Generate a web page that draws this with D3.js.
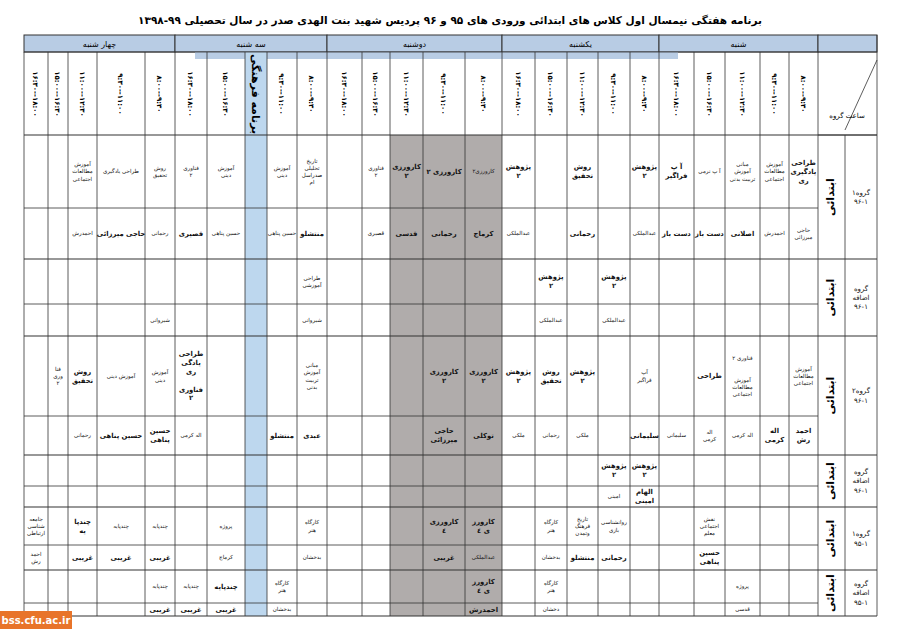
<!DOCTYPE html>
<html><head><meta charset="utf-8">
<script src="https://cdn.jsdelivr.net/npm/d3@7"></script>
<style>body{margin:0;background:#fff}text{font-family:"DejaVu Sans",sans-serif}</style>
</head><body><svg id="c" width="900" height="636"></svg>
<script>
const title = "برنامه هفتگی نیمسال اول کلاس های ابتدائی ورودی های ۹۵ و ۹۶  پردیس شهید بنت الهدی صدر در سال تحصیلی ۹۹-۱۳۹۸";
const days = ["چهار شنبه","سه شنبه","دوشنبه","یکشنبه","شنبه"];
const slots = ["۱۶:۳۰--۱۸:۰۰","۱۵:۰۰--۱۶:۳۰","۱۱:۰۰--۱۲:۳۰","۹:۳۰--۱۱:۰۰","۸:۰۰--۹:۳۰"];
const groups = ["گروه۱|۹۶-۱","گروه|اضافه|۹۶-۱","گروه۲|۹۶-۱","گروه|اضافه|۹۶-۱","گروه۱|۹۵-۱","گروه|اضافه|۹۵-۱"];
const level = "ابتدائی";
const cultural = "برنامه فرهنگی";
// cells: [column, firstSubRow, lastSubRow, text, bold]
const cells = [
 [24,0,0,"طراحی|یادگیری|ری",1],[24,1,1,"حاجی|میرزائی",0],[23,0,0,"آموزش|مطالعات|اجتماعی",0],[23,1,1,"احمدرش",0],
 [22,0,0,"مبانی|آموزش|تربیت بدنی",0],[22,1,1,"اصلانی",1],[21,0,0,"آ پ نرمی",0],[21,1,1,"دست باز",1],
 [20,0,0,"آ پ|فراگیر",1],[20,1,1,"دست باز",1],[19,0,0,"پژوهش|۲",1],[19,1,1,"عبدالملکی",0],
 [17,0,0,"روش|تحقیق",1],[17,1,1,"رحمانی",1],[15,0,0,"پژوهش|۲",1],[15,1,1,"عبدالملکی",0],
 [14,0,0,"کارورزی۲",0],[14,1,1,"کرماج",1],[13,0,0,"کارورزی ۲",1],[13,1,1,"رحمانی",1],
 [12,0,0,"کارورزی|۲",1],[12,1,1,"قدسی",1],[11,0,0,"فناوری|۲",0],[11,1,1,"قصیری",0],
 [9,0,0,"تاریخ|تحلیلی|صدراسل|ام",0],[9,1,1,"منتشلو",1],[8,0,0,"آموزش|دینی",0],[8,1,1,"حسین پناهی",0],
 [6,0,0,"آموزش|دینی",0],[6,1,1,"حسین پناهی",0],[5,0,0,"فناوری|۲",0],[5,1,1,"قصیری",1],
 [4,0,0,"روش|تحقیق",0],[4,1,1,"رحمانی",0],[3,0,0,"طراحی یادگیری",0],[3,1,1,"حاجی میرزائی",1],
 [2,0,0,"آموزش|مطالعات|اجتماعی",0],[2,1,1,"احمدرش",0],
 [9,2,2,"طراحی|آموزشی",0],[9,3,3,"شیروانی",0],[4,3,3,"شیروانی",0],
 [16,2,2,"پژوهش|۲",1],[16,3,3,"عبدالملکی",0],[18,2,2,"پژوهش|۲",1],[18,3,3,"عبدالملکی",0],
 [14,4,4,"کارورزی|۲",1],[14,5,5,"توکلی",1],[13,4,4,"کارورزی|۲",1],[13,5,5,"حاجی|میرزائی",1],
 [15,4,4,"پژوهش|۲",1],[15,5,5,"ملکی",0],[16,4,4,"روش|تحقیق",1],[16,5,5,"رحمانی",0],
 [17,4,4,"پژوهش|۲",1],[17,5,5,"ملکی",0],[19,4,4,"آپ|فراگیر",0],[19,5,5,"سلیمانی",1],
 [20,5,5,"سلیمانی",0],[21,4,4,"طراحی",1],[21,5,5,"اله|کرمی",0],
 [22,4,4,"فناوری ۲|||آموزش|مطالعات|اجتماعی",0],[22,5,5,"اله کرمی",0],[23,5,5,"اله|کرمی",1],
 [24,4,4,"آموزش|مطالعات|اجتماعی",0],[24,5,5,"احمد|رش",1],
 [1,4,4,"فنا|وری|۲",0],[2,4,4,"روش|تحقیق",1],[2,5,5,"رحمانی",0],[3,4,4,"آموزش دینی",0],[3,5,5,"حسین پناهی",1],
 [4,4,4,"آموزش|دینی",0],[4,5,5,"حسین|پناهی",1],[5,4,4,"طراحی|یادگی|ری||فناوری|۲",1],[5,5,5,"اله کرمی",0],
 [9,4,4,"مبانی|آموزش|تربیت|بدنی",0],[9,5,5,"عبدی",1],[8,5,5,"منتشلو",1],
 [18,6,6,"پژوهش|۲",1],[18,7,7,"امینی",0],[19,6,6,"پژوهش|۲",1],[19,7,7,"الهام|امینی",1],
 [14,8,8,"کارورز|ی ٤",1],[14,9,9,"عبدالملکی",0],[13,8,8,"کارورزی|٤",1],[13,9,9,"غریبی",1],
 [16,8,8,"کارگاه|هنر",0],[16,9,9,"بدخشان",0],[17,8,8,"تاریخ|فرهنگ|وتمدن",0],[17,9,9,"منتشلو",1],
 [18,8,8,"روانشناسی|بازی",0],[18,9,9,"رحمانی",1],[21,8,8,"نقش|اجتماعی|معلم",0],[21,9,9,"حسین|پناهی",1],
 [0,8,8,"جامعه|شناسی|ارتباطی",0],[0,9,9,"احمد|رش",0],[2,8,8,"چندپا|یه",1],[2,9,9,"غریبی",1],
 [3,8,8,"چندپایه",0],[3,9,9,"غریبی",1],[4,8,8,"چندپایه",0],[4,9,9,"غریبی",1],
 [6,8,8,"پروژه",0],[6,9,9,"کرماج",0],[9,8,8,"کارگاه|هنر",0],[9,9,9,"بدخشان",0],
 [14,10,10,"کارورز|ی ٤",1],[14,11,11,"احمدرش",1],[16,10,10,"کارگاه|هنر",0],[16,11,11,"دخشان",0],
 [22,10,10,"پروژه",0],[22,11,11,"قدسی",0],[4,10,10,"چندپایه",0],[4,11,11,"غریبی",1],
 [5,10,10,"چندپایه",0],[5,11,11,"غریبی",1],[6,10,10,"چندپایه",1],[6,11,11,"غریبی",1],
 [8,10,10,"کارگاه|هنر",0],[8,11,11,"بدخشان",0]
];
const colEdges = [24,48,68,97,145,175,207,245,267,297,327,362,390,423,465,502,535,567,598,630,659,694,725,760,789,818];
const rowEdges = [135,208,259,304,336,416,455,486,507,545,570,603,616];

const svg = d3.select("#c");
const x = d3.scaleLinear().domain(d3.range(colEdges.length)).range(colEdges);
const y = d3.scaleLinear().domain(d3.range(rowEdges.length)).range(rowEdges);
const ink="#333";
function ml(g, cx, cy, str, size, bold){
  const lines = str.split("|");
  const lh = size*1.3;
  const t = g.append("text").attr("text-anchor","middle").attr("font-size",size).attr("font-weight",bold?"bold":"normal").attr("fill","#111").attr("direction","rtl");
  lines.forEach((l,i)=>t.append("tspan").attr("x",cx).attr("y",cy+(i-(lines.length-1)/2)*lh+size*0.35).text(l));
}
svg.append("text").attr("x",450).attr("y",24).attr("text-anchor","middle").attr("font-size",10.5).attr("font-weight","bold").attr("direction","rtl").text(title);

days.forEach((d,i)=>{
  svg.append("rect").attr("x",x(i*5)).attr("y",35).attr("width",x(i*5+5)-x(i*5)).attr("height",17).attr("fill","#b8cce4").attr("stroke",ink);
  svg.append("text").attr("x",(x(i*5)+x(i*5+5))/2).attr("y",47).attr("text-anchor","middle").attr("font-size",8).attr("direction","rtl").text(d);
});
svg.append("rect").attr("x",818).attr("y",35).attr("width",59).attr("height",17).attr("fill","#b8cce4").attr("stroke",ink);
svg.append("rect").attr("x",195).attr("y",52).attr("width",483).attr("height",7).attr("fill","#b8cce4");
svg.append("rect").attr("x",x(12)).attr("y",y(0)).attr("width",x(15)-x(12)).attr("height",y(12)-y(0)).attr("fill","#b0acab");
svg.append("rect").attr("x",x(7)).attr("y",52).attr("width",x(8)-x(7)).attr("height",y(12)-52).attr("fill","#bdd7ee");

d3.range(25).forEach(c=>{
  const cx=(x(c)+x(c+1))/2;
  if(c===7){
    svg.append("text").attr("transform",`translate(${cx-4},94) rotate(90)`).attr("text-anchor","middle").attr("font-size",11).attr("font-weight","bold").attr("direction","rtl").text(cultural);
  } else {
    svg.append("text").attr("transform",`translate(${cx-3},94) rotate(90)`).attr("text-anchor","middle").attr("font-size",7).attr("font-weight","bold").text(slots[c%5]);
  }
});
const g = svg.append("g").attr("stroke",ink).attr("stroke-width",0.8).attr("fill","none");
colEdges.forEach(v=>g.append("line").attr("x1",v).attr("x2",v).attr("y1",52).attr("y2",y(12)));
[845,877].forEach(v=>g.append("line").attr("x1",v).attr("x2",v).attr("y1",v===877?35:y(0)).attr("y2",y(12)));
g.append("line").attr("x1",24).attr("x2",877).attr("y1",52).attr("y2",52);
rowEdges.forEach((v,i)=>g.append("line").attr("x1",24).attr("x2",i%2===0?877:818).attr("y1",v).attr("y2",v).attr("stroke-width",i%2===0?1.2:0.8));
g.append("line").attr("x1",818).attr("x2",877).attr("y1",135).attr("y2",135);
g.append("line").attr("x1",877).attr("x2",845).attr("y1",60).attr("y2",130);
svg.append("text").attr("x",847).attr("y",118).attr("text-anchor","middle").attr("font-size",7).attr("direction","rtl").text("ساعت گروه");
groups.forEach((gname,i)=>{
  const cy=(y(i*2)+y(i*2+2))/2;
  ml(svg,861,cy,gname,7,0);
  svg.append("text").attr("transform",`translate(${834},${cy}) rotate(-90)`).attr("text-anchor","middle").attr("font-size",11).attr("font-weight","bold").attr("direction","rtl").text(level);
});
cells.forEach(([c,r0,r1,t,b])=>{
  ml(svg,(x(c)+x(c+1))/2,(y(r0)+y(r1+1))/2,t,b?6.8:5.5,b);
});
svg.append("rect").attr("x",0).attr("y",611).attr("width",72).attr("height",18).attr("fill","#e8742a");
svg.append("text").attr("x",36).attr("y",624).attr("text-anchor","middle").attr("font-size",10).attr("font-weight","bold").attr("fill","#fff").text("bss.cfu.ac.ir");
</script></body></html>
